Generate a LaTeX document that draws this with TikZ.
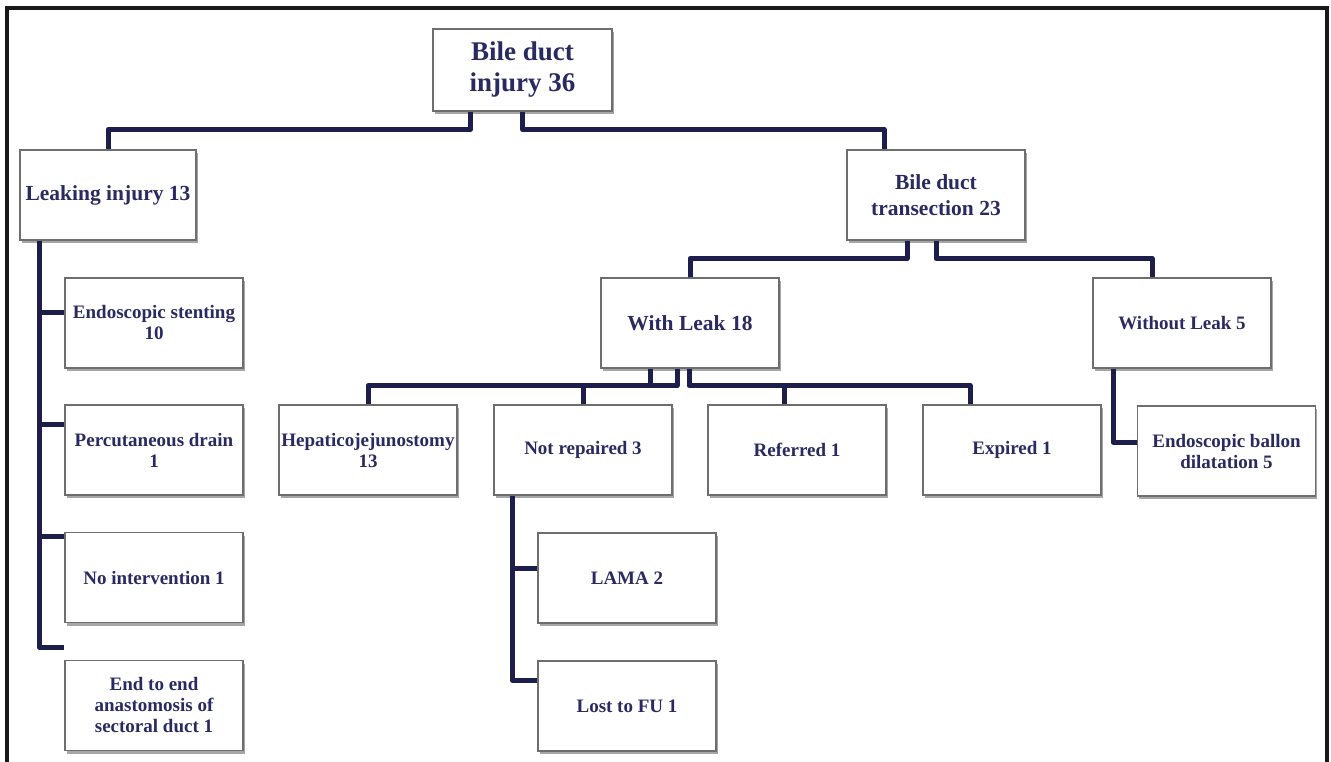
\documentclass[tikz,border=0pt]{standalone}
\usepackage{fontspec}
\setmainfont{Liberation Serif}
\usetikzlibrary{shadows}
\definecolor{navytext}{HTML}{2A2A62}
\definecolor{navyline}{HTML}{1E1E4C}
\definecolor{boxedge}{HTML}{6E6E6E}
\tikzset{
  box/.style={draw=boxedge, line width=1.2pt, fill=white, rectangle,
    minimum width=178pt, minimum height=90pt, inner sep=2pt, align=center,
    text=navytext, font=\bfseries\fontsize{19}{21}\selectfont,
    drop shadow={shadow xshift=1.5pt, shadow yshift=-3pt, fill=black, opacity=0.35}},
  bigbox/.style={box, font=\bfseries\fontsize{21.5}{25.5}\selectfont},
  rootbox/.style={box, minimum width=179pt, minimum height=82pt,
    font=\bfseries\fontsize{27}{31}\selectfont},
  conn/.style={draw=navyline, line width=5pt, line join=round},
  frame/.style={draw=black!90, line width=4pt}
}
\begin{document}
\begin{tikzpicture}[x=1pt,y=-1pt]
\useasboundingbox (0,0) rectangle (1331,762);
\fill[white] (0,0) rectangle (1331,762);
\draw[frame] (7,764) -- (7,8) -- (1327,8) -- (1327,764);

% nodes
\node[rootbox] (root) at (522.5,70) {Bile duct\\injury 36};
\node[bigbox, minimum width=176pt] (leak) at (108,195) {Leaking injury 13};
\node[bigbox] (trans) at (936,195) {Bile duct\\transection 23};
\node[box] (es) at (154,323) {Endoscopic stenting\\10};
\node[box] (pd) at (154,450) {Percutaneous drain\\1};
\node[box] (ni) at (154,577.5) {No intervention 1};
\node[box] (ee) at (154,705.5) {End to end\\anastomosis of\\sectoral duct 1};
\node[bigbox] (wl) at (690,323) {With Leak 18};
\node[box] (wol) at (1182,323) {Without Leak 5};
\node[box] (hj) at (368,450) {Hepaticojejunostomy\\13};
\node[box] (nr) at (583,450) {Not repaired 3};
\node[box] (ref) at (797,450) {Referred 1};
\node[box] (exp) at (1012,450) {Expired 1};
\node[box] (ebd) at (1226.5,451) {Endoscopic ballon\\dilatation 5};
\node[box] (lama) at (627,578) {LAMA 2};
\node[box] (lost) at (627,706) {Lost to FU 1};

% helper coordinates
\coordinate (lk) at ([xshift=-69pt]leak.south);
\coordinate (nrk) at ([xshift=-71pt]nr.south);
\coordinate (wolk) at ([xshift=-69pt]wol.south);

% root
\draw[conn] ([xshift=-52pt]root.south) -- ++(0,18) -| (leak.north);
\draw[conn] (root.south) -- ++(0,18) -| ([xshift=-52pt]trans.north);
% transection
\draw[conn] ([xshift=-29pt]trans.south) -- ++(0,18) -| (wl.north);
\draw[conn] (trans.south) -- ++(0,18) -| ([xshift=-30pt]wol.north);
% with leak, left group
\draw[conn] ([xshift=-40pt]wl.south) -- ++(0,17) -| (hj.north);
\draw[conn] ([xshift=-40pt]wl.south) ++(0,17) -| ([xshift=-13pt]wl.south);
\draw[conn] (nr.north) -- ++(0,-20);
% with leak, right group
\draw[conn] ([xshift=-1pt]wl.south) -- ++(0,17) -| ([xshift=-42pt]exp.north);
\draw[conn] ([xshift=-13pt]ref.north) -- ++(0,-20);
% leaking injury column
\draw[conn] (lk) |- ([yshift=11pt]es.west);
\draw[conn] (lk |- pd.west) ++(0,-26) -- ([yshift=26pt]pd.west);
\draw[conn] (lk |- ni.west) ++(0,-41.5) -- ([yshift=41.5pt]ni.west);
\draw[conn] (lk) |- ([yshift=58.5pt]ee.west);
% not repaired
\draw[conn] (nrk) |- ([yshift=10pt]lama.west);
\draw[conn] (nrk) |- ([yshift=26pt]lost.west);
% without leak
\draw[conn] (wolk) |- ([yshift=9pt]ebd.west);
\end{tikzpicture}
\end{document}
